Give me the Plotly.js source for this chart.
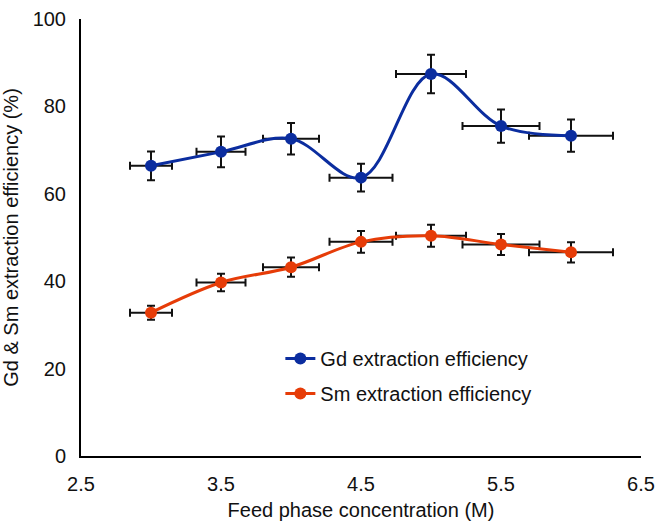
<!DOCTYPE html>
<html>
<head>
<meta charset="utf-8">
<script src="https://cdn.plot.ly/plotly-3.0.1.min.js"></script>
<style>html,body{margin:0;padding:0;background:#fff;}#chart{width:659px;height:521px;}</style>
</head>
<body>
<div id="chart"></div>
<script>
// Feed phase concentration (M)
const concentration = [3, 3.5, 4, 4.5, 5, 5.5, 6];
// Extraction efficiency (%)
const gdEfficiency = [66.4, 69.6, 72.6, 63.7, 87.4, 75.5, 73.3];
const smEfficiency = [32.8, 39.7, 43.2, 49.0, 50.4, 48.4, 46.6];
// Error bars
const gdErrorY = [3.3, 3.5, 3.6, 3.2, 4.4, 3.8, 3.7];
const smErrorY = [1.6, 2.0, 2.2, 2.5, 2.5, 2.4, 2.3];
const concErrorX = [0.15, 0.175, 0.2, 0.225, 0.25, 0.275, 0.3];

const seriesNames = ['Gd extraction efficiency', 'Sm extraction efficiency'];
const xTickVals = [2.5, 3.5, 4.5, 5.5, 6.5];
const xTickText = ['2.5', '3.5', '4.5', '5.5', '6.5'];
const yTickVals = [0, 20, 40, 60, 80, 100];

const errStyle = (arr) => ({type: 'data', array: arr, visible: true, color: '#111', thickness: 2, width: 4});

const traces = [
  {
    x: concentration, y: gdEfficiency, name: seriesNames[0], type: 'scatter', mode: 'lines+markers',
    legendgroup: 'a',
    line: {color: '#0b2d9f', width: 3, shape: 'spline', smoothing: 1},
    marker: {color: '#0b2d9f', size: 12},
    error_y: errStyle(gdErrorY), error_x: errStyle(concErrorX)
  },
  {
    x: concentration, y: smEfficiency, name: seriesNames[1], type: 'scatter', mode: 'lines+markers',
    legendgroup: 'b',
    line: {color: '#e63c08', width: 3, shape: 'spline', smoothing: 1},
    marker: {color: '#e63c08', size: 12},
    error_y: errStyle(smErrorY), error_x: errStyle(concErrorX)
  }
];

const layout = {
  width: 659, height: 521,
  margin: {l: 81, r: 18, t: 19, b: 65},
  paper_bgcolor: '#fff', plot_bgcolor: '#fff',
  font: {family: '"Liberation Sans", Arial, sans-serif', size: 20, color: '#111'},
  showlegend: true,
  legend: {x: 0.356, y: 0.268, xanchor: 'left', yanchor: 'top', bgcolor: 'rgba(0,0,0,0)',
           traceorder: 'grouped', tracegroupgap: 6, font: {size: 20}},
  xaxis: {
    range: [2.5, 6.5], tickvals: xTickVals, ticktext: xTickText,
    showline: true, linewidth: 2, linecolor: '#000', showgrid: false, zeroline: false,
    ticks: '', ticklen: 0, ticklabelstandoff: 9,
    title: {text: 'Feed phase concentration (M)', font: {size: 20}, standoff: 18}
  },
  yaxis: {
    range: [0, 100], tickvals: yTickVals,
    showline: true, linewidth: 2, linecolor: '#000', showgrid: false, zeroline: false,
    ticks: '', ticklen: 0, ticklabelstandoff: 9,
    title: {text: 'Gd &amp; Sm extraction efficiency (%)', font: {size: 20}, standoff: 10}
  }
};

Plotly.newPlot('chart', traces, layout, {displayModeBar: false, staticPlot: true});
</script>
</body>
</html>
